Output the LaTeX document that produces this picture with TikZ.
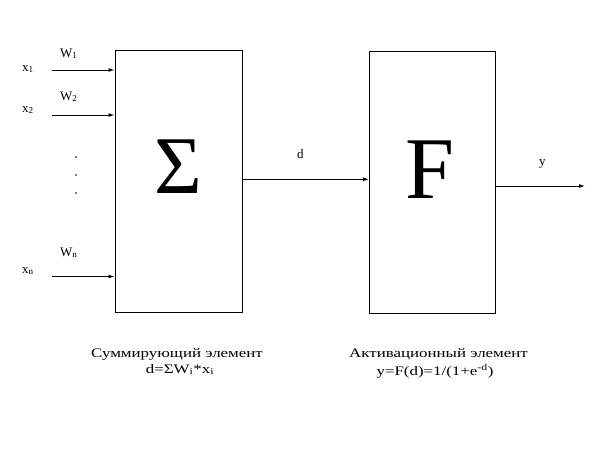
\documentclass[tikz,border=0pt]{standalone}
\usepackage{fontspec}
\setmainfont{Liberation Serif}
\newfontfamily\capfont[FakeStretch=1.3]{Liberation Serif}
\usetikzlibrary{arrows.meta}
\tikzset{
  blockbox/.style={draw, line width=1pt, rectangle, inner sep=0pt},
  conn/.style={line width=1pt, -{Latex[length=6pt,width=4pt]}},
  lbl/.style={font=\fontsize{13}{15}\selectfont, inner sep=0pt, anchor=base west},
  captxt/.style={font=\capfont\fontsize{13}{15}\selectfont, inner sep=0pt, anchor=base},
}
\begin{document}
\begin{tikzpicture}[x=1pt,y=-1pt]
\useasboundingbox (0,0) rectangle (600,450);
% blocks
\node[blockbox, minimum width=127pt, minimum height=262pt] (sum) at (178.5,181.5) {};
\node[blockbox, minimum width=126pt, minimum height=262pt] (act) at (432.5,182) {};
\node[font=\fontsize{82}{82}\selectfont, inner sep=0pt] (sigma) at (178.5,167) {Σ};
\node[font=\fontsize{88}{88}\selectfont, inner sep=0pt] (fsym) at (430,170) {F};
% inputs
\coordinate (in1) at (52,70);
\coordinate (in2) at (52,115);
\coordinate (inn) at (52,276.5);
\draw[conn] (in1) -- (in1 -| sum.west);
\draw[conn] (in2) -- (in2 -| sum.west);
\draw[conn] (inn) -- (inn -| sum.west);
\node[lbl] (x1) at (22,71) {x\textsubscript{1}};
\node[lbl] (w1) at (60,57) {W\textsubscript{1}};
\node[lbl] (x2) at (22,112) {x\textsubscript{2}};
\node[lbl] (w2) at (60,100) {W\textsubscript{2}};
\node[lbl] (xn) at (22,273) {x\textsubscript{n}};
\node[lbl] (wn) at (60,256) {W\textsubscript{n}};
\fill (76,157) circle (0.8) (76,175) circle (0.8) (76,193) circle (0.8);
% middle
\coordinate (mid) at (242,179.3);
\draw[conn] (mid) -- (mid -| act.west);
\node[lbl] (dl) at (297,158) {d};
% output
\coordinate (outs) at (495.5,186);
\coordinate (oute) at (585,186);
\draw[conn] (outs) -- (oute);
\node[lbl] (yl) at (539,165) {y};
% captions
\node[captxt] (c1) at (177,357) {Суммирующий элемент};
\node[captxt] (c2) at (180,373) {d=ΣW\textsubscript{i}*x\textsubscript{i}};
\node[captxt] (c3) at (438.5,357) {Активационный элемент};
\node[captxt] (c4) at (435,375) {y=F(d)=1/(1+e\textsuperscript{-d})};
\end{tikzpicture}
\end{document}
